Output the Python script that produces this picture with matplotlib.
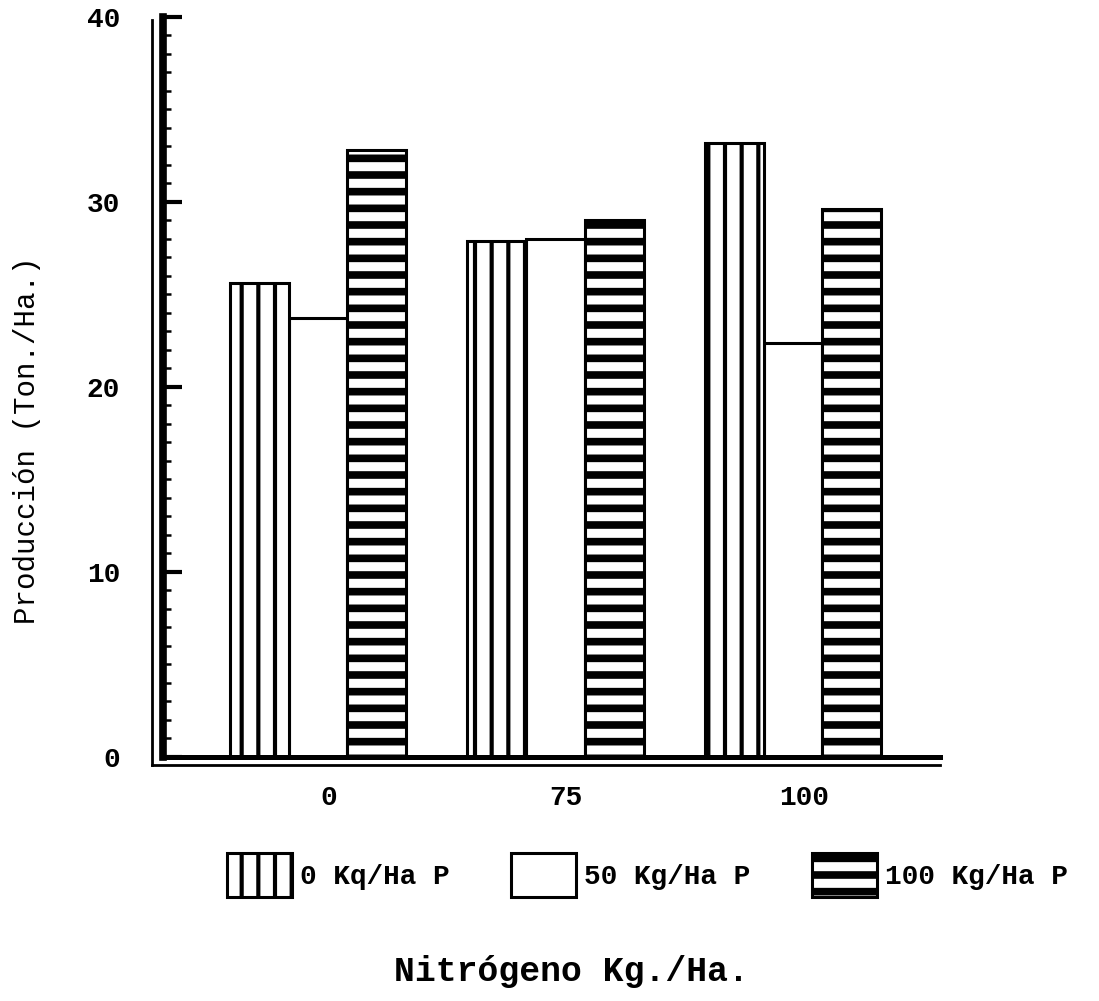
import numpy as np
import matplotlib
matplotlib.use('Agg')
import matplotlib.pyplot as plt
from matplotlib.ticker import MultipleLocator

plt.rcParams['font.family'] = ['Liberation Mono', 'DejaVu Sans Mono']

# datos
nitrogeno = ['0', '75', '100']
series = ['0 Kq/Ha P', '50 Kg/Ha P', '100 Kg/Ha P']
p0 = [25.6, 27.9, 33.2]
p50 = [23.7, 28.0, 22.4]
p100 = [32.8, 29.0, 29.6]

fig = plt.figure(figsize=(10.99, 10.01), dpi=100)
ax = fig.add_axes([0.1483, 0.2438, 0.707, 0.7393])

x = np.arange(len(nitrogeno))
w = 0.248

b0 = ax.bar(x - w, p0, w, color='white', edgecolor='black', linewidth=2.2, hatch='|', label=series[0], zorder=2)
b50 = ax.bar(x, p50, w, color='white', edgecolor='black', linewidth=2.2, label=series[1], zorder=1)
b100 = ax.bar(x + w, p100, w, color='white', edgecolor='black', linewidth=2.2, hatch='-', label=series[2], zorder=2)

hatch_lw = {0: 3.0, 2: 5.5}
for i, bars in [(0, b0), (2, b100)]:
    for p in bars:
        if hasattr(p, 'set_hatch_linewidth'):
            p.set_hatch_linewidth(hatch_lw[i])

ax.set_xlim(-0.653, 2.619)
ax.set_ylim(0, 40)

ax.spines['top'].set_visible(False)
ax.spines['right'].set_visible(False)
ax.spines['left'].set_linewidth(5.5)
ax.spines['bottom'].set_linewidth(3.6)

ax.yaxis.set_major_locator(MultipleLocator(10))
ax.yaxis.set_minor_locator(MultipleLocator(1))
ax.tick_params(axis='y', which='major', direction='in', length=14, width=3, pad=31, labelsize=20)
ax.tick_params(axis='y', which='minor', direction='in', length=6, width=1.8)
ax.set_xticks(x + 0.045)
ax.set_xticklabels(nitrogeno)
ax.tick_params(axis='x', length=0, pad=20, labelsize=20)
for t in ax.get_xticklabels() + ax.get_yticklabels():
    t.set_fontweight('bold')

# lineas dobles del marco
ax.plot([-0.0142, -0.0142], [-0.011, 0.996], color='black', lw=2, transform=ax.transAxes, clip_on=False)
ax.plot([-0.0142, 1.0], [-0.011, -0.011], color='black', lw=2, transform=ax.transAxes, clip_on=False)

leg = fig.legend(handles=[b0, b50, b100], labels=series, loc='upper left',
                 bbox_to_anchor=(227 / 1099, 1 - 853 / 1001), ncol=3, frameon=False,
                 borderpad=0, borderaxespad=0, handlelength=2.34, handleheight=2.05,
                 handletextpad=0.3, columnspacing=2.2,
                 prop={'size': 20, 'weight': 'bold'})
for i, h in enumerate(leg.legend_handles):
    h.set_linewidth(2.2)
    if i in hatch_lw and hasattr(h, 'set_hatch_linewidth'):
        h.set_hatch_linewidth(hatch_lw[i])

fig.text(0.5196, 1 - 972 / 1001, 'Nitrógeno Kg./Ha.', ha='center', va='center', fontsize=25, fontweight='bold')
fig.text(0.0246, 0.56, 'Producción (Ton./Ha.)', ha='center', va='center', rotation=90, fontsize=21)

fig.savefig('out.png', dpi=100)
